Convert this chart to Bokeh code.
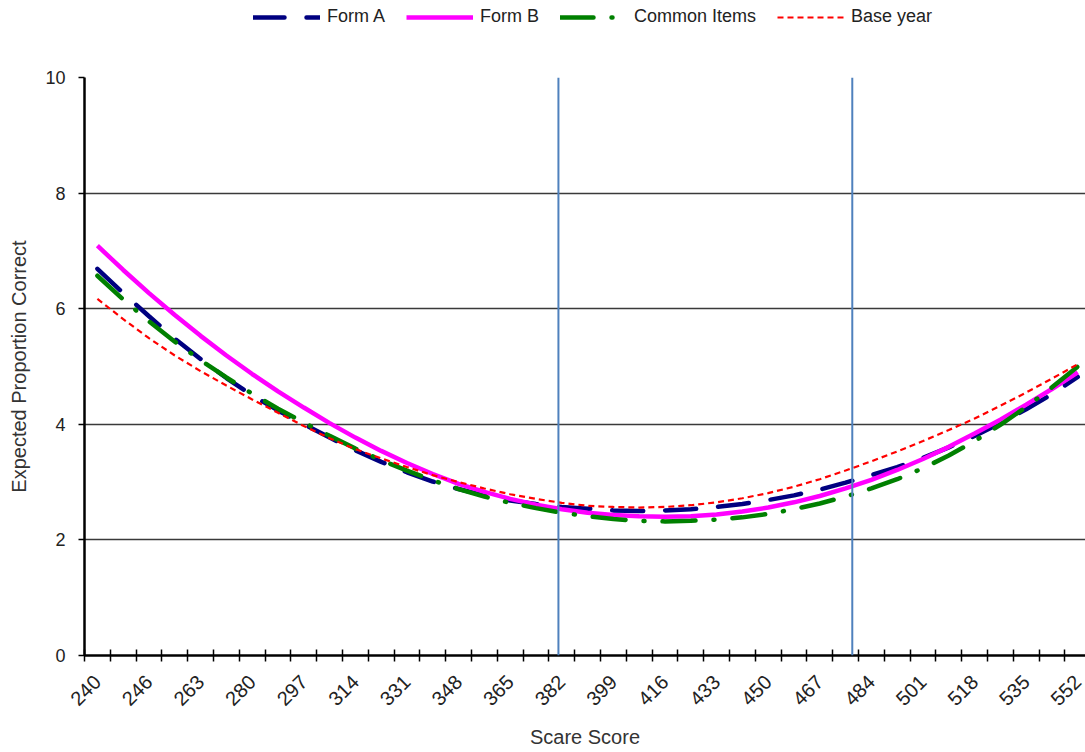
from math import pi
from bokeh.plotting import figure
from bokeh.layouts import column
from bokeh.models import FixedTicker, Span, Legend, LegendItem, Range1d
from bokeh.embed import file_html
from bokeh.resources import INLINE

# Category axis: labels shown on every other category
score_labels = ["240", "", "246", "", "263", "", "280", "", "297", "", "314", "", "331", "",
                "348", "", "365", "", "382", "", "399", "", "416", "", "433", "", "450", "",
                "467", "", "484", "", "501", "", "518", "", "535", "", "552"]

form_a = [6.69, 6.27, 5.87, 5.48, 5.13, 4.80, 4.50, 4.24, 4.00, 3.77, 3.55, 3.35, 3.17,
          3.01, 2.88, 2.77, 2.68, 2.62, 2.57, 2.54, 2.51, 2.50, 2.51, 2.53, 2.57, 2.62,
          2.69, 2.77, 2.87, 2.99, 3.12, 3.26, 3.42, 3.60, 3.80, 4.02, 4.26, 4.52, 4.82]

form_b = [7.09, 6.67, 6.27, 5.89, 5.53, 5.19, 4.87, 4.57, 4.29, 4.02, 3.77, 3.54, 3.33,
          3.14, 2.97, 2.83, 2.71, 2.61, 2.53, 2.47, 2.43, 2.41, 2.40, 2.41, 2.44, 2.49,
          2.56, 2.65, 2.76, 2.89, 3.04, 3.21, 3.40, 3.61, 3.84, 4.08, 4.34, 4.61, 4.90]

common_items = [6.57, 6.16, 5.78, 5.43, 5.11, 4.81, 4.53, 4.27, 4.03, 3.80, 3.58, 3.38, 3.20,
                3.03, 2.88, 2.75, 2.64, 2.55, 2.47, 2.41, 2.36, 2.33, 2.32, 2.33, 2.35, 2.39,
                2.45, 2.53, 2.63, 2.75, 2.89, 3.05, 3.24, 3.46, 3.71, 3.99, 4.30, 4.64, 5.00]

base_year = [6.17, 5.82, 5.49, 5.19, 4.92, 4.67, 4.43, 4.20, 3.97, 3.76, 3.57, 3.41, 3.26,
             3.12, 3.00, 2.89, 2.79, 2.71, 2.64, 2.59, 2.57, 2.56, 2.57, 2.60, 2.65, 2.72,
             2.81, 2.92, 3.05, 3.20, 3.36, 3.53, 3.71, 3.90, 4.10, 4.32, 4.55, 4.79, 5.04]

# cut-score positions on the category axis (category index units)
cut_positions = [17.87, 29.26]

y_ticks = [0, 2, 4, 6, 8, 10]

series_names = ["Form A", "Form B", "Common Items", "Base year"]
series = [form_a, form_b, common_items, base_year]

x = list(range(len(score_labels)))

FONT = "Liberation Sans"
STYLES = [dict(line_color="#000080", line_width=4.5, line_dash="31 22", line_cap="round"),
          dict(line_color="#FF00FF", line_width=4.5),
          dict(line_color="#008000", line_width=4.5, line_dash="33 18 1 18", line_cap="round"),
          dict(line_color="#FF0000", line_width=2.2, line_dash="6 4")]

# ---- main chart ----
p = figure(width=1085, height=712, x_range=Range1d(-0.5, 38.3), y_range=Range1d(0, 10),
           output_backend="svg", toolbar_location=None,
           min_border_left=84, min_border_right=0, min_border_top=37, min_border_bottom=97)
p.outline_line_color = None
p.background_fill_color = "white"

for ys, st in zip(series, STYLES):
    p.line(x, ys, **st)

for c in cut_positions:
    p.add_layout(Span(location=c, dimension="height", line_color="#4F81BD", line_width=2))

# x axis
p.xaxis.ticker = FixedTicker(ticks=[i for i in x if score_labels[i]],
                             minor_ticks=[i - 0.5 for i in range(len(x) + 1)])
p.xaxis.major_label_overrides = {i: score_labels[i] for i in x if score_labels[i]}
p.xaxis.major_label_orientation = pi / 4
p.xaxis.major_tick_in = 0
p.xaxis.major_tick_out = 0
p.xaxis.major_tick_line_color = None
p.xaxis.minor_tick_in = 6
p.xaxis.minor_tick_out = 6
p.xaxis.minor_tick_line_color = "black"
p.xaxis.minor_tick_line_width = 1.5
p.xaxis.major_label_standoff = 17
p.xaxis.major_label_text_font_size = "20px"
p.xaxis.axis_label = "Scare Score"
p.xaxis.axis_label_standoff = 11

# y axis
p.yaxis.ticker = FixedTicker(ticks=y_ticks)
p.yaxis.major_tick_in = 0
p.yaxis.major_tick_out = 6
p.yaxis.major_tick_line_width = 1.5
p.yaxis.minor_tick_line_color = None
p.yaxis.major_label_standoff = 13
p.yaxis.major_label_text_font_size = "18px"
p.yaxis.axis_label = "Expected Proportion Correct"
p.yaxis.axis_label_standoff = 12

for ax in (p.xaxis, p.yaxis):
    ax.axis_line_color = "black"
    ax.axis_line_width = 2.5
    ax.major_label_text_font = FONT
    ax.major_label_text_color = "#222222"
    ax.axis_label_text_font = FONT
    ax.axis_label_text_font_size = "20px"
    ax.axis_label_text_font_style = "normal"
    ax.axis_label_text_color = "#333333"

p.xgrid.visible = False
p.ygrid.ticker = FixedTicker(ticks=y_ticks)
p.ygrid.grid_line_color = "#3a3a3a"
p.ygrid.grid_line_width = 1.5

# ---- legend strip above the chart (series drawn out of view, only legend shows) ----
lg = figure(width=1085, height=40, x_range=Range1d(1000, 1001), y_range=Range1d(1000, 1001),
            output_backend="svg", toolbar_location=None, min_border=0)
lg.outline_line_color = None
lg.axis.visible = False
lg.grid.visible = False
proxies = [lg.line(x, ys, **st) for ys, st in zip(series, STYLES)]

legend = Legend(items=[LegendItem(label=n, renderers=[r]) for n, r in zip(series_names, proxies)],
                orientation="horizontal", location=(169, 13),
                glyph_width=67, glyph_height=16, label_height=16, label_standoff=7,
                spacing=21, padding=0, margin=0, border_line_color=None,
                background_fill_alpha=0, label_text_font=FONT,
                label_text_font_size="18px", label_text_color="#222222")
lg.add_layout(legend)

open("out.html", "w").write(file_html(column(lg, p, spacing=0), INLINE))
